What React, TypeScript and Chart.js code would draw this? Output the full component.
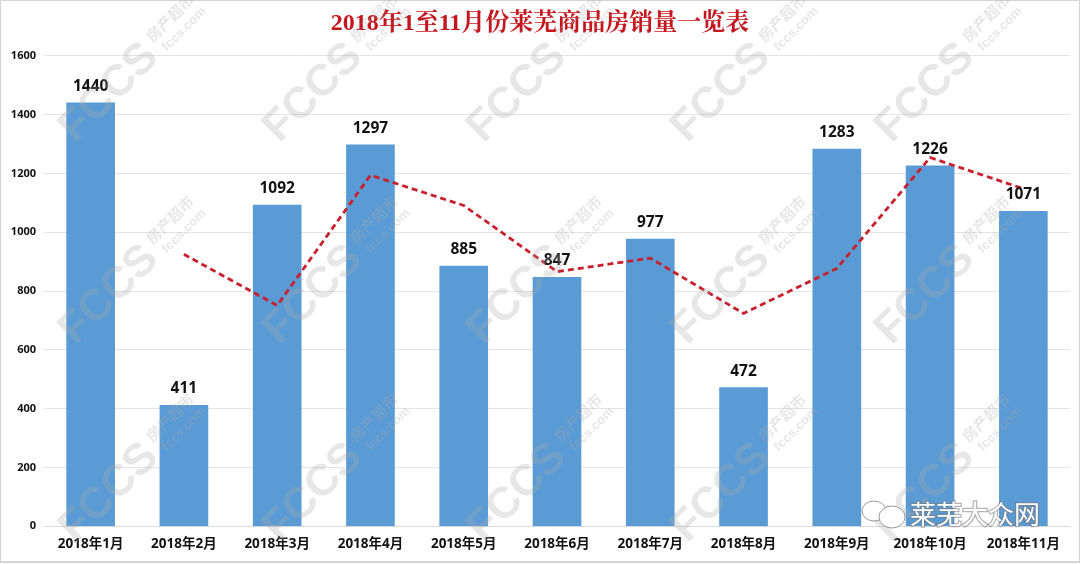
import React, { useEffect, useRef } from "react";
import { Chart, registerables } from "chart.js";

Chart.register(...registerables);

const categories = ["2018年1月", "2018年2月", "2018年3月", "2018年4月", "2018年5月", "2018年6月", "2018年7月", "2018年8月", "2018年9月", "2018年10月", "2018年11月"];
const sales = [1440, 411, 1092, 1297, 885, 847, 977, 472, 1283, 1226, 1071];
const movingAverage = [null, 925, 751, 1194, 1091, 866, 912, 724, 877, 1254, 1148];
const chartTitle = "2018年1至11月份莱芜商品房销量一览表";
const watermarkColumns = [112, 316, 520, 724, 928];
const watermarkRows = [90, 292, 490];

const LABEL_FONT = "'Open Sans','Noto Sans CJK SC',sans-serif";

const backdrop = {
  id: "backdrop",
  beforeDraw(chart: any) {
    const { ctx, width, height } = chart;
    ctx.save();
    ctx.fillStyle = "#fff";
    ctx.fillRect(0, 0, width, height);
    ctx.strokeStyle = "#d4d4d4";
    ctx.lineWidth = 2;
    ctx.strokeRect(0, 0, width, height - 2);
    ctx.restore();
  },
};

const barLabels = {
  id: "barLabels",
  afterDatasetsDraw(chart: any) {
    const { ctx } = chart;
    const meta = chart.getDatasetMeta(1);
    ctx.save();
    ctx.fillStyle = "#111";
    ctx.font = `bold 15.5px ${LABEL_FONT}`;
    ctx.textAlign = "center";
    ctx.textBaseline = "alphabetic";
    meta.data.forEach((bar: any, i: number) => {
      ctx.fillText(String(sales[i]), bar.x, bar.y - 12);
    });
    ctx.restore();
  },
};

const watermark = {
  id: "watermark",
  afterDraw(chart: any) {
    const { ctx } = chart;
    ctx.save();
    watermarkColumns.forEach((x) => {
      watermarkRows.forEach((y) => {
        ctx.save();
        ctx.translate(x, y);
        ctx.rotate(-Math.PI / 4);
        ctx.fillStyle = "rgba(170,170,170,0.28)";
        ctx.textAlign = "center";
        ctx.textBaseline = "middle";
        ctx.font = "bold 44px 'Liberation Sans',sans-serif";
        ctx.fillText("FCCS", -4, 0);
        ctx.font = "bold 15px 'Noto Sans CJK SC',sans-serif";
        ctx.fillText("房产超市", 92, -10);
        ctx.font = "bold 13px 'Liberation Sans',sans-serif";
        ctx.fillText("fccs.com", 94, 8);
        ctx.restore();
      });
    });
    // corner signature
    ctx.textAlign = "left";
    ctx.textBaseline = "middle";
    ctx.font = "26px 'Noto Sans CJK SC',sans-serif";
    ctx.lineWidth = 2.5;
    ctx.strokeStyle = "rgba(120,120,120,0.55)";
    ctx.strokeText("莱芜大众网", 910, 514);
    ctx.fillStyle = "#fff";
    ctx.fillText("莱芜大众网", 910, 514);
    ctx.lineWidth = 1;
    ctx.strokeStyle = "rgba(130,130,130,0.8)";
    ctx.fillStyle = "rgba(255,255,255,0.9)";
    ctx.beginPath();
    ctx.ellipse(874, 511, 12, 10, 0, 0, Math.PI * 2);
    ctx.fill();
    ctx.stroke();
    ctx.beginPath();
    ctx.ellipse(892, 517, 13, 11, 0, 0, Math.PI * 2);
    ctx.fill();
    ctx.stroke();
    ctx.restore();
  },
};

export default function App() {
  const ref = useRef<HTMLCanvasElement>(null);

  useEffect(() => {
    document.body.style.margin = "0";
    const chart = new Chart(ref.current as HTMLCanvasElement, {
      type: "bar",
      data: {
        labels: categories,
        datasets: [
          {
            type: "line",
            label: "移动平均",
            data: movingAverage as any,
            borderColor: "#c8202c",
            borderWidth: 2.8,
            borderDash: [6, 4],
            pointRadius: 0,
            fill: false,
            tension: 0,
            order: 0,
          },
          {
            type: "bar",
            label: "销量",
            data: sales,
            backgroundColor: "#5b9bd5",
            barThickness: 48,
            order: 1,
          },
        ],
      } as any,
      options: {
        responsive: false,
        animation: false,
        devicePixelRatio: 1,
        layout: { padding: { left: 10, right: 10, top: 0, bottom: 9.5 } },
        plugins: {
          legend: { display: false },
          tooltip: { enabled: false },
          title: {
            display: true,
            text: chartTitle,
            color: "#c5161d",
            font: { family: "'Liberation Serif','Noto Serif CJK SC','Noto Sans CJK SC',serif", size: 24, weight: "bold" },
            padding: { top: 9, bottom: 18 },
          },
        },
        scales: {
          x: {
            grid: { display: false, drawTicks: true },
            border: { color: "#d9d9d9" },
            ticks: {
              color: "#111",
              font: { family: LABEL_FONT, size: 13.5, weight: "bold" },
              maxRotation: 0,
              autoSkip: false,
              padding: 2,
            },
          },
          y: {
            min: 0,
            max: 1600,
            afterFit(scale: any) {
              scale.width = 34;
            },
            grid: { color: "#e4e4e4", drawTicks: false },
            border: { display: false },
            ticks: {
              stepSize: 200,
              color: "#111",
              font: { family: LABEL_FONT, size: 11, weight: "bold" },
              padding: 8,
              callback: (value: any) => String(value),
            },
          },
        },
      },
      plugins: [backdrop, barLabels, watermark],
    } as any);
    return () => chart.destroy();
  }, []);

  return <canvas ref={ref} width={1080} height={564} style={{ display: "block" }} />;
}
